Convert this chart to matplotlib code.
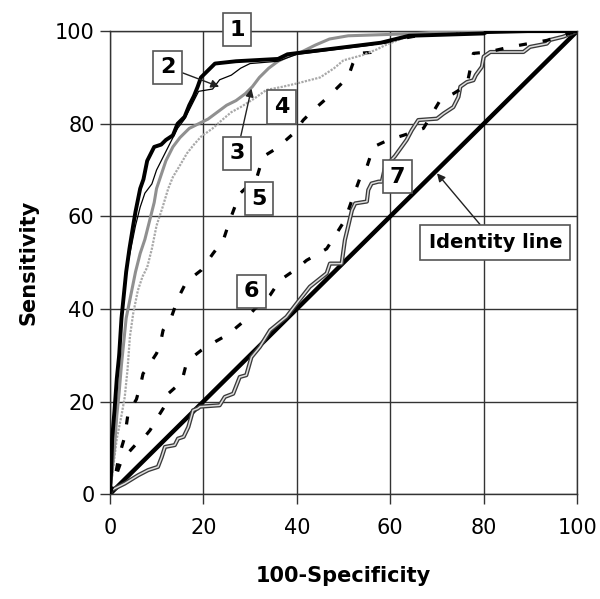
import matplotlib
matplotlib.use("Agg")
import matplotlib.pyplot as plt
import matplotlib.patheffects as pe

# curve 1: thick black
x1 = [0, 0.3, 0.5, 1, 1.5, 2, 2.5, 3, 3.5, 4.2, 5, 5.5, 6.5, 7.2, 8, 9.5, 11, 12, 13.5, 14.5, 16, 17, 18, 18.8,
      19.5, 21, 22.5, 27, 36, 38, 42, 50, 58, 64, 80, 81, 100]
y1 = [0, 5, 12, 18, 25, 30, 38, 43, 48, 53, 58, 61, 66, 68, 72, 75, 75.5, 76.5, 77.5, 80, 81.5, 84, 86, 88,
      90, 91.5, 93, 93.5, 94, 95, 95.5, 96.5, 97.5, 99, 99.5, 100, 100]
# curve 2: thin black
x2 = [0, 0.5, 1, 1.5, 2, 2.5, 3, 3.5, 4.5, 5.5, 6.5, 7.5, 9, 10, 11, 12, 13, 14.5, 16, 17, 18, 19, 22, 23.5,
      26, 28, 30, 36, 40, 48, 56, 60, 66, 80, 100]
y2 = [0, 8, 17, 25, 32, 38, 44, 48, 53, 58, 62, 65, 67, 70, 72, 74, 76, 79, 81, 83, 85, 87, 87.5, 89.5,
      90.5, 92, 93, 93.5, 95, 96, 97, 98, 99, 99.5, 100]
# curve 3: grey
x3 = [0, 0.5, 1, 1.5, 2, 2.5, 3, 3.5, 4.5, 5.5, 6.5, 7.5, 8.5, 9.5, 10, 11, 12, 13.5, 15, 17, 19, 21, 23, 25,
      27, 29, 30.5, 32, 34, 36, 38, 41, 44, 47, 51, 60, 66, 72, 100]
y3 = [0, 5, 10, 17, 22, 28, 33, 38, 43, 48, 52, 55, 59, 63, 66, 69, 72, 75, 77, 79, 80, 81, 82.5, 84,
      85, 86.5, 88, 90, 92, 93.5, 94.5, 95.5, 97, 98.3, 99, 99.3, 99.5, 100, 100]
# curve 4: light grey dotted
x4 = [0, 0.5, 1, 1.5, 2.5, 3.2, 3.8, 4.3, 5, 6, 7, 8, 9, 10, 11.3, 12.5, 13.5, 15, 16.5, 18, 19.5, 22, 24,
      26, 28, 31, 33.5, 37, 40, 45, 48, 50, 54, 57, 59, 63.5, 70, 80, 100]
y4 = [0, 4, 8, 12, 17, 21, 27, 34, 39, 44, 47, 49, 53, 58, 62, 66, 68.5, 71, 73.6, 75.5, 77.2, 79, 80.8,
      82.5, 83.6, 85.5, 87.3, 88, 88.7, 90, 92, 93.7, 94.8, 96, 97, 98.8, 99.5, 100, 100]
# curve 5: black dashed
x5 = [0, 1, 1.8, 2.5, 3.2, 3.9, 5.7, 6.8, 7.1, 8.6, 10, 10.7, 11.4, 13.2, 14.6, 16.4, 19.6, 22.1, 24.3, 25.7,
      27.8, 31.4, 32.8, 35.7, 39.3, 41.4, 43.5, 46.4, 48.5, 51, 52, 53.1, 55.8, 58.5, 63, 68.5, 80, 100]
y5 = [0, 3, 7.3, 10, 12.4, 17.4, 20.5, 24.6, 26, 28.2, 30.4, 32, 35.4, 38.3, 42.3, 45.9, 48.4, 52, 54.9, 59.2,
      64.9, 68.2, 72.9, 74.7, 77.9, 80.8, 82.9, 85.5, 87.6, 90.1, 93, 95.2, 95.4, 97.5, 98.5, 99.5, 100, 100]
# curve 6: black dashed
x6 = [0, 1, 2.5, 4, 5.7, 6.8, 8.6, 10.3, 12.1, 12.5, 15.4, 16.2, 18.2, 19.6, 22.5, 25.3, 28.5, 31, 34.3, 36.4,
      40, 42.1, 46.4, 48.5, 50.3, 51.8, 53.5, 55, 56.4, 59.6, 62.8, 67.1, 70.7, 73.5, 76.4, 77.8, 81, 85.7,
      89, 93.5, 98, 100]
y6 = [0, 3, 7.3, 9, 10.9, 11.6, 13.8, 16.7, 19.6, 21.7, 24.3, 27.5, 30, 31.1, 32.9, 34.5, 37.2, 40, 43, 46.2,
      48.7, 50.5, 53, 56.3, 59.2, 63.5, 68.2, 70.7, 75, 76.5, 77.5, 79, 85.1, 86.5, 88.3, 95.2, 95.5, 96.6,
      97.2, 98, 99.4, 100]
# curve 7: outlined grey
x7 = [0, 0.4, 3.2, 6.1, 8.2, 10.3, 11.1, 11.8, 13.9, 14.6, 15.8, 16.8, 17.8, 18.8, 19.3, 23.5, 24.6, 26.4, 27.8,
      29.2, 30.3, 32.1, 34.3, 37.8, 40, 42.8, 46.4, 47.1, 49.6, 50.3, 50.8, 51.8, 52.5, 55, 55.3, 56, 57.5,
      58.2, 58.9, 61, 63.5, 64.6, 66, 70, 71.4, 73.5, 74.6, 75, 76.4, 77.8, 78.3, 79.6, 80, 81.4, 88.5, 89.9,
      93.5, 94.2, 97, 98.5, 100]
y7 = [0, 0.9, 2.3, 4.1, 5.2, 5.9, 8, 10.2, 10.6, 12, 12.4, 14.5, 18.1, 18.5, 18.9, 19.2, 21, 21.7, 25.3,
      25.7, 29.6, 31.8, 35.4, 38.3, 41.2, 44.8, 47.7, 49.8, 49.8, 54.9, 57, 61.3, 62.8, 63.2, 65.7, 67.1, 67.5,
      67.5, 70.7, 73, 76.5, 78.6, 80.8, 81.1, 82.2, 83.6, 85.8, 88, 89, 89.4, 90.5, 92.3, 94.5, 95.5, 95.5, 96.6,
      97.3, 98.1, 98.8, 99.4, 100]

ticks = [0, 20, 40, 60, 80, 100]

plt.rcParams['font.family'] = ['DejaVu Sans']

fig = plt.figure(figsize=(6, 5.99), dpi=100)
ax = fig.add_axes([0.183, 0.175, 0.779, 0.773])

ax.set_xlim(0, 100)
ax.set_ylim(0, 100)
ax.set_xticks(ticks)
ax.set_yticks(ticks)
ax.grid(True, color='#333333', linewidth=1)
ax.set_axisbelow(True)
for s in ax.spines.values():
    s.set_color('#333333')
    s.set_linewidth(1)
ax.tick_params(length=7, width=1, color='#333333', labelsize=15)
ax.tick_params(axis='x', pad=10)
ax.tick_params(axis='y', pad=4)

# identity
ax.plot([0, 100], [0, 100], color='black', linewidth=3.2, zorder=3)

ax.plot(x7, y7, color='#dddddd', linewidth=1.1, zorder=4,
        path_effects=[pe.Stroke(linewidth=3, foreground='#3a3a3a'), pe.Normal()])
ax.plot(x6, y6, color='black', linewidth=2.3, linestyle=(0, (2.5, 5)), zorder=4)
ax.plot(x5, y5, color='black', linewidth=2.3, linestyle=(0, (2.5, 5)), zorder=4)
ax.plot(x4, y4, color='#a8a8a8', linewidth=1.6, linestyle=(0, (1, 0.6)), zorder=4)
ax.plot(x3, y3, color='#909090', linewidth=2.2, zorder=4)
ax.plot(x2, y2, color='black', linewidth=0.9, zorder=5)
ax.plot(x1, y1, color='black', linewidth=2.8, zorder=6)

box = dict(boxstyle='square,pad=0.3', facecolor='white', edgecolor='#555555', linewidth=1.2)
kw = dict(fontsize=16, fontweight='bold', ha='center', va='center', bbox=box, zorder=10, clip_on=False)
arrow = dict(arrowstyle='-|>', color='#222222', linewidth=1, mutation_scale=12, shrinkA=0, shrinkB=0)

ax.text(27.2, 100.3, '1', **kw)
ax.annotate('2', xy=(23.4, 88), xytext=(12.4, 92.2), arrowprops=arrow, **kw)
ax.annotate('3', xy=(30.3, 87.6), xytext=(27.2, 73.6), arrowprops=arrow, **kw)
ax.text(36.8, 83.6, '4', **kw)
ax.text(31.9, 63.8, '5', **kw)
ax.text(30.3, 43.8, '6', **kw)
ax.text(61.5, 68.6, '7', **kw)
ax.annotate('Identity line', xy=(70, 69.3), xytext=(82.5, 54.3),
            arrowprops=arrow, fontsize=14, fontweight='bold', ha='center', va='center',
            bbox=dict(boxstyle='square,pad=0.42', facecolor='white', edgecolor='#555555', linewidth=1.2),
            zorder=10)

ax.set_xlabel('100-Specificity', fontsize=15, fontweight='bold', labelpad=20)
ax.set_ylabel('Sensitivity', fontsize=15, fontweight='bold', labelpad=12)

fig.savefig('out.png', dpi=100)
